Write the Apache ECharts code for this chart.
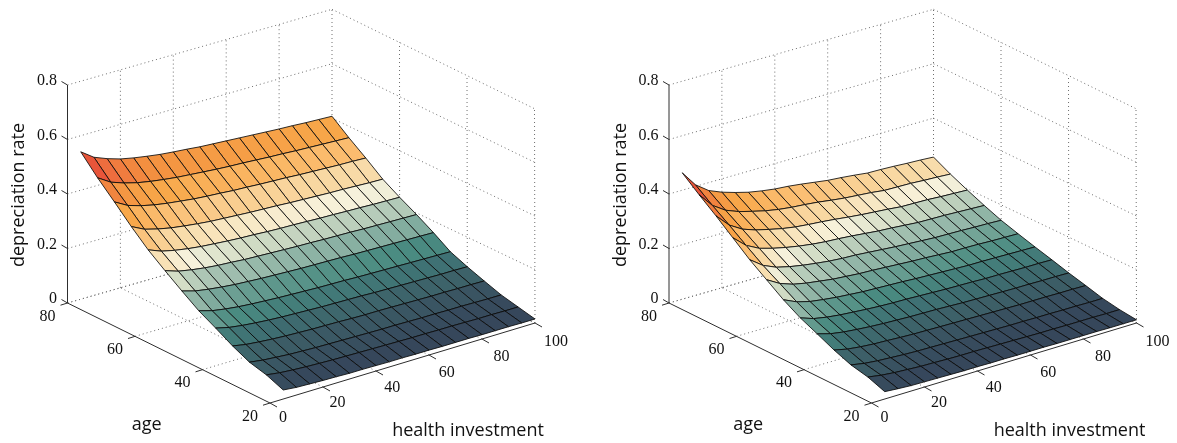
<!DOCTYPE html>
<html><head><meta charset="utf-8">
<style>html,body{margin:0;padding:0;background:#fff}#c{width:1177px;height:443px}</style>
<script src="https://cdn.jsdelivr.net/npm/echarts@6/dist/echarts.min.js"></script>
</head><body><div id="c"></div>
<script>
const ages=[20,25,30,35,40,45,50,55,60,65,70,75,80];
const investments=[5,10,15,20,25,30,35,40,45,50,55,60,65,70,75,80,85,90,95,100];
const zTicks=[0,0.2,0.4,0.6,0.8];
const ageTicks=[20,40,60,80];
const investTicks=[0,20,40,60,80,100];

const leftAge20=[.033,.028,.026,.024,.023,.021,.021,.020,.019,.019,.018,.018,.017,.017,.017,.016,.016,.016,.015,.015];
const leftAge25=[.058,.051,.047,.044,.042,.040,.039,.038,.037,.036,.035,.034,.034,.033,.033,.032,.031,.031,.030,.030];
const leftAge30=[.074,.067,.063,.059,.057,.055,.054,.053,.052,.051,.050,.050,.049,.048,.048,.047,.047,.046,.045,.045];
const leftAge35=[.103,.094,.089,.085,.082,.080,.078,.077,.076,.074,.073,.073,.072,.071,.070,.069,.069,.068,.068,.067];
const leftAge40=[.138,.126,.119,.114,.110,.107,.105,.103,.101,.100,.099,.098,.096,.095,.094,.093,.092,.091,.091,.090];
const leftAge45=[.171,.157,.149,.143,.139,.136,.133,.131,.129,.127,.126,.125,.123,.122,.121,.120,.119,.118,.117,.116];
const leftAge50=[.213,.199,.191,.185,.180,.177,.174,.172,.170,.168,.167,.166,.165,.163,.162,.161,.160,.159,.158,.157];
const leftAge55=[.257,.241,.232,.225,.220,.217,.213,.211,.209,.207,.205,.204,.202,.201,.200,.198,.197,.196,.195,.194];
const leftAge60=[.303,.284,.273,.265,.259,.255,.251,.248,.246,.243,.241,.240,.238,.236,.235,.233,.232,.230,.229,.228];
const leftAge65=[.358,.334,.321,.311,.304,.298,.293,.290,.287,.284,.282,.280,.277,.275,.273,.271,.270,.268,.266,.265];
const leftAge70=[.418,.391,.376,.365,.357,.351,.345,.341,.338,.334,.332,.329,.327,.325,.322,.320,.318,.316,.315,.313];
const leftAge75=[.476,.446,.429,.416,.407,.400,.394,.390,.386,.382,.379,.377,.374,.371,.369,.366,.364,.362,.360,.358];
const leftAge80=[.541,.507,.488,.473,.463,.455,.448,.443,.439,.434,.431,.428,.425,.422,.419,.416,.414,.411,.409,.407];

const rightAge20=[.027,.023,.020,.019,.018,.017,.016,.016,.015,.015,.014,.014,.014,.013,.013,.013,.013,.012,.012,.012];
const rightAge25=[.050,.042,.037,.034,.031,.030,.028,.027,.027,.026,.025,.024,.023,.022,.022,.021,.021,.021,.020,.020];
const rightAge30=[.064,.055,.050,.047,.044,.042,.041,.040,.039,.038,.037,.036,.035,.035,.034,.034,.033,.033,.032,.032];
const rightAge35=[.088,.077,.071,.067,.065,.062,.060,.059,.058,.057,.056,.055,.054,.053,.052,.052,.052,.051,.051,.050];
const rightAge40=[.117,.103,.095,.090,.086,.083,.081,.079,.078,.077,.075,.073,.072,.071,.070,.069,.069,.068,.068,.067];
const rightAge45=[.145,.128,.119,.113,.109,.105,.102,.100,.099,.097,.095,.093,.092,.091,.089,.089,.088,.087,.087,.086];
const rightAge50=[.181,.159,.146,.139,.133,.129,.125,.123,.121,.119,.116,.114,.112,.110,.108,.108,.107,.106,.105,.104];
const rightAge55=[.224,.196,.179,.169,.162,.155,.151,.147,.145,.142,.139,.136,.134,.131,.128,.128,.127,.125,.124,.123];
const rightAge60=[.267,.232,.211,.199,.190,.183,.177,.173,.171,.167,.163,.159,.156,.153,.150,.149,.148,.146,.145,.143];
const rightAge65=[.317,.275,.250,.236,.225,.216,.209,.204,.201,.197,.192,.187,.184,.180,.176,.175,.174,.172,.170,.168];
const rightAge70=[.367,.319,.290,.273,.261,.250,.242,.237,.233,.228,.222,.217,.213,.209,.204,.203,.202,.199,.197,.195];
const rightAge75=[.414,.361,.329,.310,.297,.285,.276,.270,.266,.261,.254,.248,.244,.240,.234,.233,.232,.229,.227,.224];
const rightAge80=[.464,.406,.371,.351,.336,.323,.314,.307,.303,.297,.290,.283,.279,.274,.268,.267,.265,.262,.260,.257];

const leftRates=[leftAge20,leftAge25,leftAge30,leftAge35,leftAge40,leftAge45,leftAge50,leftAge55,leftAge60,leftAge65,leftAge70,leftAge75,leftAge80];
const rightRates=[rightAge20,rightAge25,rightAge30,rightAge35,rightAge40,rightAge45,rightAge50,rightAge55,rightAge60,rightAge65,rightAge70,rightAge75,rightAge80];

const zTitle='depreciation rate', ageTitle='age', investTitle='health investment';

// colour ramp: fraction of the panel's maximum -> colour
const rampStops=[0,.05,.12,.17,.22,.29,.36,.39,.43,.49,.58,.66,.75,.82,.88,1];
const rampColors=['#35455a','#36485c','#3d6068','#3f7274','#4a8b81','#80ab9e','#b2c9b8','#d0dbc4','#f7f2dc','#f8dcaa','#fbbd70','#f8a84a','#f39040','#ee6f3e','#e8553a','#e24a32'];

// box corners of the left panel: [inv fraction, age fraction] -> pixel
const floorCorners=[[270,403],[535,323],[67.5,303],[332,227]];
const roofCorners=[[269.5,184.4],[534.5,108.7],[67.5,85],[332,9.3]];
const panelShift=[0,601.5];

function lerp(a,b,t){return a+(b-a)*t;}
function project(inv,age,z,dx){
  const u=inv/100,v=(age-20)/60,w=z/0.8;
  const bi=(c,k)=>lerp(lerp(c[0][k],c[1][k],u),lerp(c[2][k],c[3][k],u),v);
  return [lerp(bi(floorCorners,0),bi(roofCorners,0),w)+dx, lerp(bi(floorCorners,1),bi(roofCorners,1),w)];
}
function hex(c){return [1,3,5].map(i=>parseInt(c.substr(i,2),16));}
function rampColor(t){
  let i=0;while(i<rampStops.length-2&&t>rampStops[i+1])i++;
  const f=Math.max(0,Math.min(1,(t-rampStops[i])/(rampStops[i+1]-rampStops[i])));
  const a=hex(rampColors[i]),b=hex(rampColors[i+1]);
  return 'rgb('+a.map((x,k)=>Math.round(lerp(x,b[k],f))).join(',')+')';
}
function cellData(rates,dx){
  const out=[],cmax=Math.max(...rates.flat());
  for(let i=ages.length-2;i>=0;i--)for(let j=investments.length-2;j>=0;j--){
    const p=[[i,j],[i,j+1],[i+1,j+1],[i+1,j]].map(([a,b])=>project(investments[b],ages[a],rates[a][b],dx));
    out.push([...p.flat(),rates[i][j]/cmax]);
  }
  return out;
}
function renderCell(params,api){
  const pts=[0,2,4,6].map(k=>api.coord([api.value(k),api.value(k+1)]));
  return {type:'polygon',shape:{points:pts},style:{fill:rampColor(api.value(8)),stroke:'rgba(10,10,10,.85)',lineWidth:1,lineJoin:'round'}};
}
function seg(a,b){return [a[0],a[1],b[0],b[1]];}
function gridData(dx){
  const out=[];
  for(const z of zTicks){
    out.push(seg(project(0,80,z,dx),project(100,80,z,dx)));
    out.push(seg(project(100,80,z,dx),project(100,20,z,dx)));
  }
  for(const t of investTicks.slice(1)){
    out.push(seg(project(t,80,0,dx),project(t,80,.8,dx)));
    out.push(seg(project(t,20,0,dx),project(t,80,0,dx)));
  }
  for(const a of ageTicks){
    if(a!==80)out.push(seg(project(100,a,0,dx),project(100,a,.8,dx)));
    if(a!==20)out.push(seg(project(0,a,0,dx),project(100,a,0,dx)));
  }
  return out;
}
function axisData(dx){
  const out=[seg(project(0,80,0,dx),project(0,80,.8,dx)),seg(project(0,80,0,dx),project(0,20,0,dx)),seg(project(0,20,0,dx),project(100,20,0,dx))];
  const tick=(p,vx,vy)=>out.push(seg(p,[p[0]+vx,p[1]+vy]));
  zTicks.forEach(z=>tick(project(0,80,z,dx),-6,-3.5));
  ageTicks.forEach(a=>tick(project(0,a,0,dx),-7,2.2));
  investTicks.forEach(t=>tick(project(t,20,0,dx),7,4));
  return out;
}
function renderSeg(color,w,dash){
  return (params,api)=>{
    const a=api.coord([api.value(0),api.value(1)]),b=api.coord([api.value(2),api.value(3)]);
    return {type:'line',shape:{x1:a[0],y1:a[1],x2:b[0],y2:b[1]},style:{stroke:color,lineWidth:w,lineDash:dash||null,fill:null}};
  };
}
function tickLabels(dx){
  const out=[];
  zTicks.forEach(z=>{const p=project(0,80,z,dx);out.push([p[0]-10.5,p[1]-4,String(z),'right']);});
  ageTicks.forEach(a=>{const p=project(0,a,0,dx);out.push([p[0]-20,p[1]+13.5,String(a),'center']);});
  investTicks.forEach(t=>{const p=project(t,20,0,dx);out.push([p[0]+13+.08*t,p[1]+15+.04*t,String(t),'center']);});
  return out;
}
function labelSeries(name,items,font,size,rotation){
  return {type:'custom',name,coordinateSystem:'cartesian2d',silent:true,z:5,clip:false,
    data:items.map(d=>[d[0],d[1]]),
    renderItem:(params,api)=>{
      const it=items[params.dataIndex],p=api.coord([api.value(0),api.value(1)]);
      return {type:'text',x:p[0],y:p[1],rotation:rotation||0,
        style:{text:it[2],fill:'#111',font:size+'px "'+font+'"',align:it[3]||'center',verticalAlign:'middle'}};
    }};
}
const series=[];
[[leftRates,panelShift[0]],[rightRates,panelShift[1]]].forEach(([rates,dx],k)=>{
  const tag=k?'right':'left';
  series.push({type:'custom',name:tag+' grid',coordinateSystem:'cartesian2d',silent:true,z:1,clip:false,data:gridData(dx),renderItem:renderSeg('#6e6e6e',1,[1,3])});
  series.push({type:'custom',name:tag+' axes',coordinateSystem:'cartesian2d',silent:true,z:2,clip:false,data:axisData(dx),renderItem:renderSeg('#2e2e2e',1)});
  series.push({type:'custom',name:tag+' surface',coordinateSystem:'cartesian2d',silent:true,z:3,clip:false,data:cellData(rates,dx),renderItem:renderCell});
  series.push(labelSeries(tag+' ticks',tickLabels(dx),'Liberation Serif',16));
  series.push(labelSeries(tag+' z title',[[19+dx,195,zTitle]],'Open Sans',18,Math.PI/2));
  series.push(labelSeries(tag+' titles',[[146.7+dx,425,ageTitle],[468+dx,430.7,investTitle]],'Open Sans',18));
});
const chart=echarts.init(document.getElementById('c'),null,{renderer:'canvas'});
chart.setOption({animation:false,backgroundColor:'#fff',
  grid:{left:0,right:0,top:0,bottom:0},
  xAxis:{type:'value',min:0,max:1177,show:false},
  yAxis:{type:'value',min:0,max:443,inverse:true,show:false},
  series});
</script></body></html>
